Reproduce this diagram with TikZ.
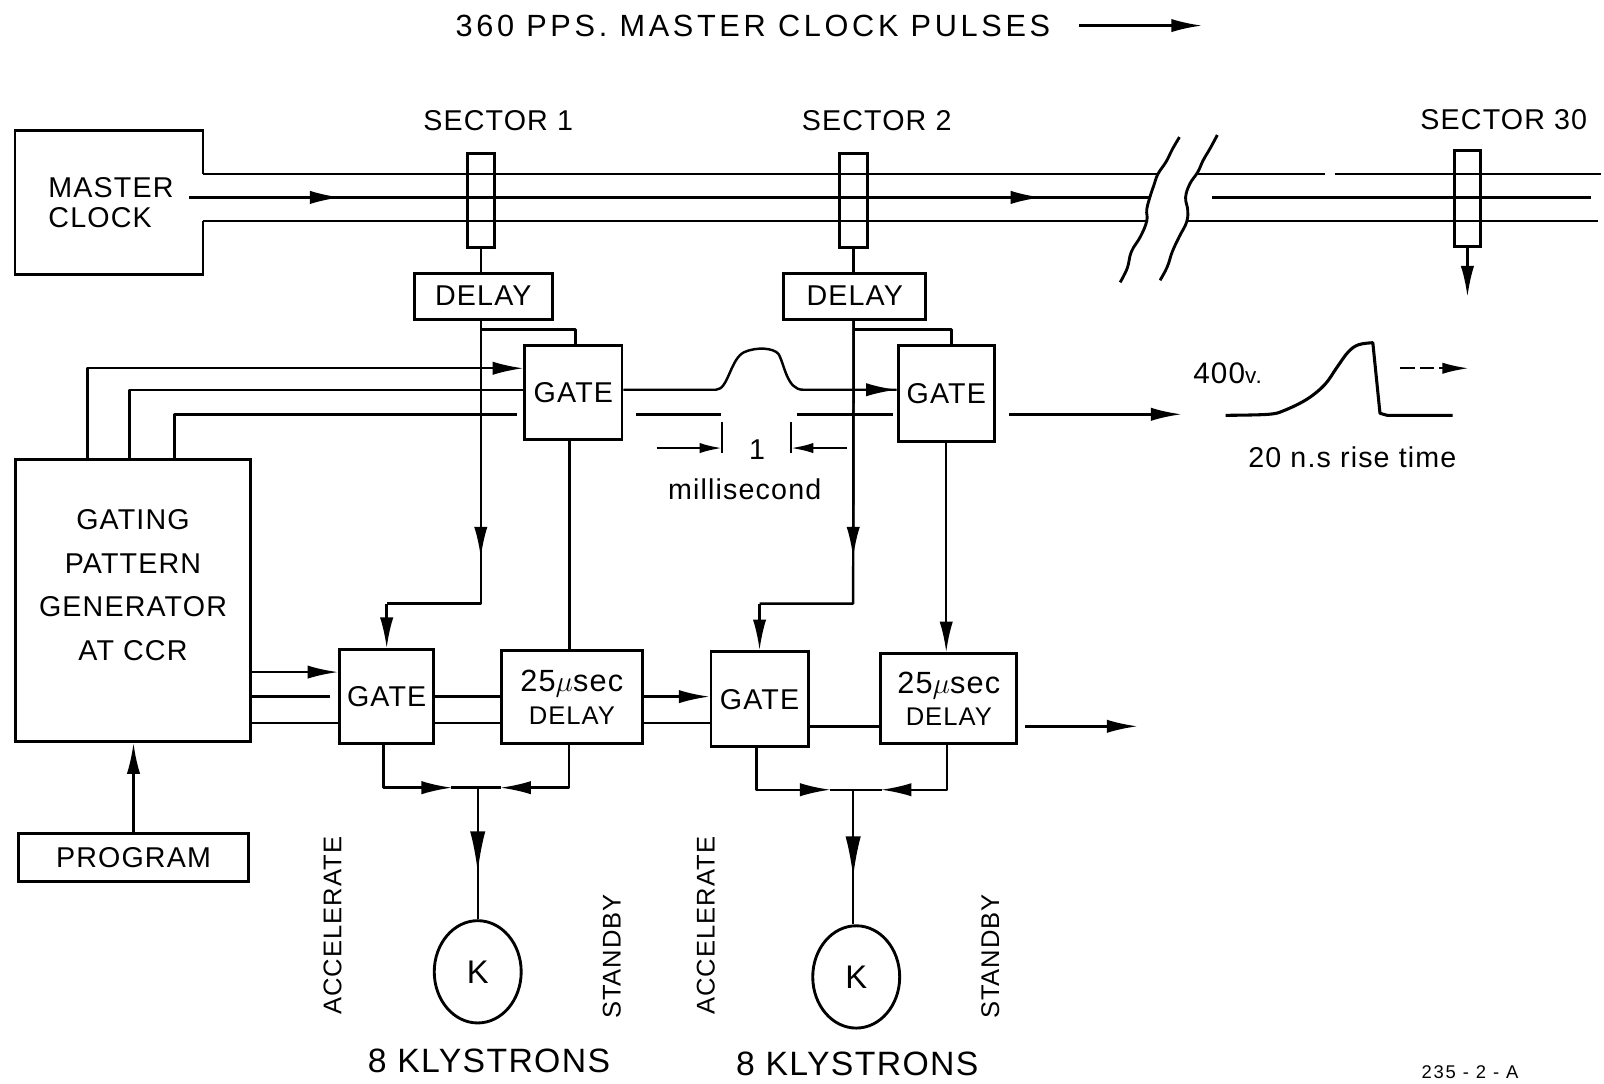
\documentclass[tikz,border=0pt]{standalone}
\usepackage{fontspec}
\setmainfont{Liberation Sans}
\newfontfamily\lbl[LetterSpace=4]{Liberation Sans}
\newfontfamily\ttl[LetterSpace=12]{Liberation Sans}
\newfontfamily\wid[LetterSpace=10]{Liberation Sans}
\usetikzlibrary{arrows.meta,shapes.geometric}
\begin{document}
\begin{tikzpicture}[x=0.5pt,y=-0.5pt,
 wire/.style={line width=1.2pt,line join=round},
 arr/.style={wire,-{Latex[length=15pt,width=6.5pt]}},
 barr/.style={wire,-{Latex[length=20pt,width=7.5pt]}},
 sarr/.style={wire,-{Latex[length=11pt,width=5pt]}},
 lab/.style={font={\lbl\fontsize{14}{16}\selectfont},inner sep=0pt},
 box/.style={draw,line width=1.4pt,lab,align=center},
 tapbox/.style={draw,line width=1.4pt,inner sep=0pt},
 outline/.style={line width=1.4pt,line join=miter},
]
\useasboundingbox (0,0) rectangle (1568,1059);

% helper levels
\coordinate (bT) at (0,170);
\coordinate (bM) at (0,193);
\coordinate (bB) at (0,216);
\coordinate (yT) at (0,360);
\coordinate (yM) at (0,381);
\coordinate (yL) at (0,405);
\coordinate (yA) at (0,657);
\coordinate (yB) at (0,681);
\coordinate (yC) at (0,707);
\coordinate (yD) at (0,710);

% title
\node[font={\ttl\fontsize{15}{17}\selectfont},inner sep=0pt] (title) at (736,25) {360 PPS. MASTER CLOCK PULSES};
\coordinate (titleEnd) at (1175,25);
\draw[arr] ([xshift=14pt]title.east) -- (titleEnd);

% sector labels
\node[lab] (s1) at (487,118) {SECTOR 1};
\node[lab] (s2) at (857,118) {SECTOR 2};
\node[lab] (s30) at (1470,117) {SECTOR 30};

% master clock
\node[minimum width=91.5pt,minimum height=70pt,inner sep=0pt] (mc) at (106.5,198) {};
\node[lab,align=left,anchor=west,font={\lbl\fontsize{14}{14.5}\selectfont}] (mctext) at (47,198) {MASTER\\CLOCK};
\draw[outline] (mc.east |- bT) -- (mc.north east) -- (mc.north west) -- (mc.south west) -- (mc.south east) -- (mc.east |- bB);

% taps
\node[tapbox,minimum width=13pt,minimum height=46pt] (t1) at (470,196) {};
\node[tapbox,minimum width=13.5pt,minimum height=46pt] (t2) at (834.5,196) {};
\node[tapbox,minimum width=12.5pt,minimum height=47pt] (t30) at (1434.5,194) {};

% bus lines (left of break)
\coordinate (mcout) at (185,193);
\coordinate (ar1) at (333,193);
\coordinate (ar2) at (1018,193);
\coordinate (brkT) at (1132,170);
\coordinate (brkM) at (1124,193);
\coordinate (brkB) at (1121,216);
\draw[wire] (mc.east |- bT) -- (brkT);
\draw[wire] (mc.east |- bB) -- (brkB);
\draw[wire] (mcout) -- (brkM);
\draw[arr] (mcout) -- (ar1);
\draw[arr] (ar1) -- (ar2);
% bus lines (right of break)
\draw[wire] (1171,170) -- (1295,170);
\draw[wire] (1305,170) -- (1565,170);
\draw[wire] (1185,193) -- (1555,193);
\draw[wire] (1160,216) -- (1562,216);
% break marks
\draw[wire,line width=1.4pt] plot[smooth,tension=0.7] coordinates {(1153,134) (1146,146) (1140,158) (1132,170) (1128,181) (1124,193) (1121,205) (1121,216) (1115,231) (1106,246) (1102,262) (1095,276)};
\draw[wire,line width=1.4pt] plot[smooth,tension=0.7] coordinates {(1190,132) (1183,145) (1176,157) (1171,168) (1163,180) (1159,193) (1161,205) (1160,217) (1153,231) (1146,246) (1141,261) (1134,274)};
\coordinate (t30o) at (1434.5,290);
\draw[arr] (t30.south) -- (t30o);

% delays
\node[box,minimum width=67.5pt,minimum height=22.5pt] (d1) at (472.5,289.5) {DELAY};
\node[box,minimum width=69.5pt,minimum height=22.5pt] (d2) at (835.5,289.5) {DELAY};
\draw[wire] (t1.south) -- (t1.south |- d1.north);
\draw[wire] (t2.south) -- (t2.south |- d2.north);

% upper gates
\node[box,minimum width=47.5pt,minimum height=46pt] (gu1) at (560.5,384) {GATE};
\node[box,minimum width=47pt,minimum height=47pt] (gu2) at (925,385) {GATE};

% gating pattern generator
\node[draw,line width=1.4pt,minimum width=115pt,minimum height=138pt,inner sep=0pt] (gpg) at (130,587) {};
\node[lab,align=center,font={\lbl\fontsize{14}{21.5}\selectfont}] (gpgt) at (130,572) {GATING\\PATTERN\\GENERATOR\\AT CCR};
\node[box,minimum width=112.5pt,minimum height=23.5pt] (prog) at (130.5,838.5) {PROGRAM};
\draw[arr] (prog.north) -- (prog.north |- gpg.south);

% lower gates and delays
\node[box,minimum width=46pt,minimum height=46pt] (gl1) at (378,681) {GATE};
\node[box,minimum width=69pt,minimum height=45.5pt,font={\lbl\fontsize{15}{17}\selectfont}] (dl1) at (559,681.5) {25$\mu$sec\\[-1pt]{\fontsize{12.5}{14}\selectfont DELAY}};
\node[box,minimum width=47.5pt,minimum height=46.5pt] (gl2) at (742.5,683.5) {GATE};
\node[box,minimum width=66.5pt,minimum height=44pt,font={\lbl\fontsize{15}{17}\selectfont}] (dl2) at (927.5,683) {25$\mu$sec\\[-1pt]{\fontsize{12.5}{14}\selectfont DELAY}};

% delay 1 paths
\coordinate (j1a) at (470,545);
\coordinate (j1b) at (470,590);
\draw[wire] (t1.south |- d1.south) -- (j1b) -- (j1b -| gl1.north);
\draw[arr] (t1.south |- d1.south) -- (j1a);
\draw[arr] (j1b -| gl1.north) -- (gl1.north);
\coordinate (br1) at (470,322);
\draw[wire] (br1) -| ([xshift=1pt]gu1.north);

% delay 2 paths
\coordinate (j2a) at (834,545);
\coordinate (j2b) at (834,590);
\draw[wire] (t2.south |- d2.south) -- (j2b) -- (j2b -| gl2.north);
\draw[arr] (t2.south |- d2.south) -- (j2a);
\draw[arr] (j2b -| gl2.north) -- (gl2.north);
\coordinate (br2) at (834,322);
\draw[wire] (br2) -| ([xshift=2.5pt]gu2.north);

% gating pattern lines to upper gate 1
\draw[arr] ([xshift=36pt]gpg.north west) |- (gu1.west |- yT);
\draw[wire] ([xshift=56.5pt]gpg.north west) |- (gu1.west |- yM);
\coordinate (lEnd1) at (505,405);
\draw[wire] ([xshift=78.5pt]gpg.north west) |- (lEnd1);

% pulse between gates
\coordinate (pl) at (845,381);
\draw[wire] (gu1.east |- yM) -- (700,381) .. controls (712,381) and (714,350) .. (728,344) .. controls (740,339) and (756,340) .. (761,346) .. controls (767,356) and (769,381) .. (785,381) -- (gu2.west |- yM);
\draw[arr] (pl) -- (gu2.west |- yM);
\draw[wire] (622,405) -- (705,405);
\draw[wire] (779,405) -- ([xshift=-2pt]gu2.west |- yL);
\coordinate (outEnd) at (1155,405);
\draw[arr] ([xshift=6.5pt]gu2.east |- yL) -- (outEnd);

% dimension
\coordinate (tkL) at (706,438);
\coordinate (tkR) at (773,438);
\draw[wire] (706,413) -- (706,443);
\draw[wire] (773,413) -- (773,443);
\draw[sarr] (642,438) -- (tkL);
\draw[sarr] (828,438) -- (tkR);
\node[lab] (one) at (740,440) {1};
\node[lab] (ms) at (728,478) {millisecond};

% waveform
\node[lab,font={\lbl\fontsize{14.5}{16}\selectfont}] (v400) at (1200,365) {400{\fontsize{11}{12}\selectfont v.}};
\draw[wire,line width=1.5pt] plot[smooth,tension=0.6] coordinates {(1198,406) (1240,405) (1256,401) (1278,390) (1295,376) (1307,359) (1318,344) (1328,337) (1342,335)} -- (1349,404) -- (1356,406) -- (1420,406);
\coordinate (da1) at (1369,360);
\coordinate (da2) at (1436,360);
\draw[wire,dash pattern=on 7pt off 2.5pt,-{Latex[length=13pt,width=5.5pt]}] (da1) -- (da2);
\node[lab] (rise) at (1322,447) {20 n.s rise time};

% lower wiring
\draw[arr] (gpg.east |- yA) -- (gl1.west |- yA);
\draw[wire] (gpg.east |- yB) -- ([xshift=-4pt]gl1.west |- yB);
\draw[wire] (gpg.east |- yC) -- (gl1.west |- yC);
\draw[wire] (gl1.east |- yB) -- (dl1.west |- yB);
\draw[wire] (gl1.east |- yC) -- (dl1.west |- yC);
\draw[arr] (dl1.east |- yB) -- (gl2.west |- yB);
\draw[wire] (dl1.east |- yC) -- (gl2.west |- yC);
\draw[wire] (gl2.east |- yD) -- (dl2.west |- yD);
\coordinate (outEnd2) at (1112,710);
\draw[arr] ([xshift=3.5pt]dl2.east |- yD) -- (outEnd2);
\draw[wire] ([xshift=-2pt]gu1.south) -- ([xshift=-2pt]gu1.south |- dl1.north);
\draw[arr] (gu2.south) -- (gu2.south |- dl2.north);

% klystrons
\node[draw,ellipse,line width=1.4pt,minimum width=42.5pt,minimum height=50pt,inner sep=0pt,font={\lbl\fontsize{16}{18}\selectfont}] (k1) at (467,950) {K};
\node[draw,ellipse,line width=1.4pt,minimum width=42.5pt,minimum height=50pt,inner sep=0pt,font={\lbl\fontsize{16}{18}\selectfont}] (k2) at (837,955) {K};

% combiners sector 1
\coordinate (m1) at (467,770);
\draw[wire] ([xshift=-13pt]m1) -- ([xshift=11.5pt]m1);
\draw[arr] ([xshift=-1.5pt]gl1.south) |- ([xshift=-12.5pt]m1);
\draw[arr] ([xshift=-1.5pt]dl1.south) |- ([xshift=11pt]m1);
\draw[wire] (m1) -- (k1.north);
\draw[barr] (m1) -- ([yshift=23pt]k1.north);
% combiners sector 2
\coordinate (m2) at (834,772);
\draw[wire] ([xshift=-11.5pt]m2) -- ([xshift=14pt]m2);
\draw[arr] ([xshift=-1.5pt]gl2.south) |- ([xshift=-11pt]m2);
\draw[arr] ([xshift=-1pt]dl2.south) |- ([xshift=13.5pt]m2);
\draw[wire] (m2) -- (k2.north -| m2);
\draw[barr] (m2) -- ([yshift=23pt]k2.north -| m2);

% vertical labels
\node[lab,rotate=90,font={\lbl\fontsize{12.5}{14}\selectfont}] (acc1) at (325,905) {ACCELERATE};
\node[lab,rotate=90,font={\lbl\fontsize{12.5}{14}\selectfont}] (stb1) at (598,935) {STANDBY};
\node[lab,rotate=90,font={\lbl\fontsize{12.5}{14}\selectfont}] (acc2) at (690,905) {ACCELERATE};
\node[lab,rotate=90,font={\lbl\fontsize{12.5}{14}\selectfont}] (stb2) at (968,935) {STANDBY};

\node[lab,font={\lbl\fontsize{16.5}{18}\selectfont}] (kl1) at (478,1037) {8 KLYSTRONS};
\node[lab,font={\lbl\fontsize{16.5}{18}\selectfont}] (kl2) at (838,1040) {8 KLYSTRONS};
\node[inner sep=0pt,font={\wid\fontsize{9}{10}\selectfont}] (ref) at (1437,1048) {235 - 2 - A};
\end{tikzpicture}
\end{document}
